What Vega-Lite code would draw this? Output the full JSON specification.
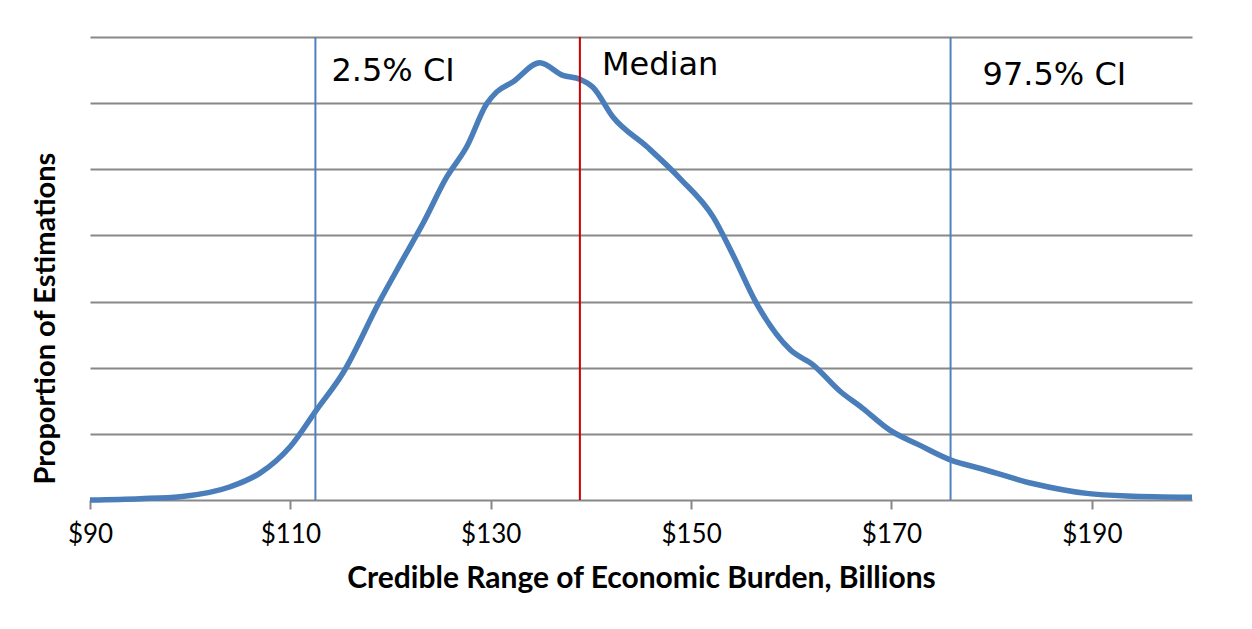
{
  "$schema": "https://vega.github.io/schema/vega-lite/v6.json",
  "width": 1102,
  "height": 463,
  "autosize": {"type": "none"},
  "padding": {"left": 90, "top": 37, "right": 60, "bottom": 129},
  "background": "white",
  "config": {"view": {"stroke": null}},
  "datasets": {
    "curve": [
      {"cost": 90.0, "prop": 0.0},
      {"cost": 95.0, "prop": 0.02},
      {"cost": 99.0, "prop": 0.05},
      {"cost": 104.0, "prop": 0.2},
      {"cost": 107.0, "prop": 0.41},
      {"cost": 110.0, "prop": 0.81},
      {"cost": 112.6, "prop": 1.36},
      {"cost": 115.25, "prop": 1.92},
      {"cost": 118.9, "prop": 3.0},
      {"cost": 121.2, "prop": 3.63},
      {"cost": 123.3, "prop": 4.2},
      {"cost": 125.6, "prop": 4.88},
      {"cost": 127.6, "prop": 5.34},
      {"cost": 129.6, "prop": 5.99},
      {"cost": 130.6, "prop": 6.17},
      {"cost": 132.2, "prop": 6.32},
      {"cost": 134.9, "prop": 6.61},
      {"cost": 137.2, "prop": 6.42},
      {"cost": 138.9, "prop": 6.36},
      {"cost": 140.2, "prop": 6.24},
      {"cost": 142.2, "prop": 5.79},
      {"cost": 145.6, "prop": 5.34},
      {"cost": 148.9, "prop": 4.86},
      {"cost": 152.2, "prop": 4.28},
      {"cost": 154.2, "prop": 3.7},
      {"cost": 156.5, "prop": 2.98},
      {"cost": 159.9, "prop": 2.27},
      {"cost": 162.2, "prop": 2.04},
      {"cost": 164.9, "prop": 1.64},
      {"cost": 167.1, "prop": 1.39},
      {"cost": 169.8, "prop": 1.06},
      {"cost": 172.8, "prop": 0.83},
      {"cost": 176.0, "prop": 0.6},
      {"cost": 178.8, "prop": 0.48},
      {"cost": 184.1, "prop": 0.25},
      {"cost": 189.5, "prop": 0.1},
      {"cost": 193.5, "prop": 0.06},
      {"cost": 200.0, "prop": 0.04}
    ],
    "refs": [
      {"name": "2.5% CI", "cost": 112.5, "kind": "ci"},
      {"name": "Median", "cost": 138.9, "kind": "median"},
      {"name": "97.5% CI", "cost": 175.9, "kind": "ci"}
    ],
    "notes": [
      {"text": "2.5% CI", "cost": 114.1, "prop": 6.34},
      {"text": "Median", "cost": 141.1, "prop": 6.42},
      {"text": "97.5% CI", "cost": 179.1, "prop": 6.28}
    ]
  },
  "layer": [
    {
      "data": {"name": "curve"},
      "mark": {"type": "line", "interpolate": "monotone", "color": "#4a7ebb", "strokeWidth": 5.5, "clip": false},
      "encoding": {
        "x": {
          "field": "cost", "type": "quantitative",
          "scale": {"domain": [90, 200], "nice": false, "zero": false},
          "axis": {
            "values": [90, 110, 130, 150, 170, 190],
            "labelExpr": "'$' + datum.value",
            "labelFlush": false,
            "grid": false,
            "domainColor": "#878787", "domainWidth": 2,
            "tickColor": "#878787", "tickWidth": 2, "tickSize": 9,
            "labelFont": "Lato", "labelFontSize": 26, "labelColor": "#000000",
            "labelPadding": 12,
            "title": "Credible Range of Economic Burden, Billions",
            "titleFont": "Lato", "titleFontSize": 30, "titleFontWeight": "bold", "titleColor": "#000000",
            "titlePadding": 16
          }
        },
        "y": {
          "field": "prop", "type": "quantitative",
          "scale": {"domain": [0, 7], "nice": false},
          "axis": {
            "values": [1, 2, 3, 4, 5, 6, 7],
            "labels": false, "ticks": false, "domain": false,
            "grid": true, "gridColor": "#888888", "gridWidth": 2,
            "title": "Proportion of Estimations",
            "titleFont": "Lato", "titleFontSize": 29, "titleFontWeight": "bold", "titleColor": "#000000",
            "titlePadding": 30,
            "titleY": 281
          }
        }
      }
    },
    {
      "data": {"name": "refs"},
      "mark": {"type": "rule", "strokeWidth": 2},
      "encoding": {
        "x": {"field": "cost", "type": "quantitative"},
        "y": {"datum": 7},
        "y2": {"datum": 0},
        "color": {"field": "kind", "type": "nominal", "scale": {"domain": ["ci", "median"], "range": ["#4f81bd", "#cc0000"]}, "legend": null}
      }
    },
    {
      "data": {"name": "notes"},
      "mark": {"type": "text", "align": "left", "baseline": "alphabetic", "font": "DejaVu Sans", "fontSize": 32, "color": "#000000"},
      "encoding": {
        "x": {"field": "cost", "type": "quantitative"},
        "y": {"field": "prop", "type": "quantitative"},
        "text": {"field": "text"}
      }
    }
  ]
}
